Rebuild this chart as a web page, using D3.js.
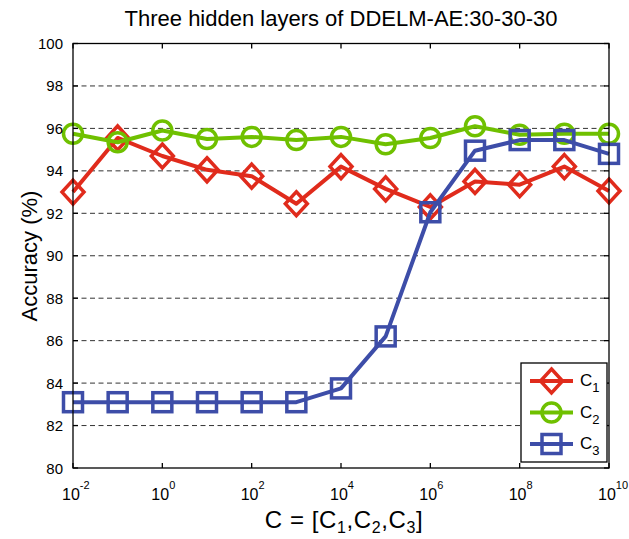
<!doctype html>
<html lang="en">
<head>
<meta charset="utf-8">
<title>DDELM-AE accuracy</title>
<style>
  * { margin: 0; padding: 0; border: 0; }
  body { background-color: #fff; }
  svg text { font-family: 'Liberation Sans', Arial, sans-serif; fill: #000; }
</style>
</head>
<body>
<div id="plot"></div>
<script src="https://d3js.org/d3.v7.min.js"></script>
<script>
  // regularisation parameter C on a log axis, 10^-2 .. 10^10
  var cExps = [-2, -1, 0, 1, 2, 3, 4, 5, 6, 7, 8, 9, 10];
  var c1 = [93.0, 95.55, 94.7, 94.05, 93.75, 92.45, 94.2, 93.15, 92.3, 93.5, 93.35, 94.2, 93.05];
  var c2 = [95.75, 95.35, 95.9, 95.5, 95.6, 95.45, 95.6, 95.25, 95.55, 96.1, 95.7, 95.75, 95.75];
  var c3 = [83.1, 83.1, 83.1, 83.1, 83.1, 83.1, 83.75, 86.2, 92.05, 94.95, 95.45, 95.45, 94.8];
  var seriesNames = ["1", "2", "3"];
  var yTicks = [80, 82, 84, 86, 88, 90, 92, 94, 96, 98, 100];
  var xTickExps = [-2, 0, 2, 4, 6, 8, 10];

  var width = 629, height = 539;
  var pl = 73, pr = 609, pt = 43.5, pb = 468;

  var x = d3.scaleLog().domain([1e-2, 1e10]).range([pl, pr]);
  var y = d3.scaleLinear().domain([80, 100]).range([pb, pt]);

  var svg = d3.select("#plot").append("svg").attr("width", width).attr("height", height);

  // dashed grid
  svg.append("g").selectAll("line")
    .data(yTicks.filter(d => d > 80 && d < 100))
    .enter().append("line")
    .attr("x1", pl).attr("x2", pr)
    .attr("y1", d => y(d)).attr("y2", d => y(d))
    .style("stroke", "#333").style("stroke-width", 1)
    .style("stroke-dasharray", "5,3.5");

  var colors = ["#e02b1c", "#6fc000", "#3d4da8"];
  var data = [c1, c2, c3];
  var line = d3.line().x(d => x(Math.pow(10, d[0]))).y(d => y(d[1]));

  function marker(g, kind, cx, cy, color) {
    if (kind == 0) {
      g.append("path").attr("d", `M${cx},${cy-12}L${cx+11},${cy}L${cx},${cy+12}L${cx-11},${cy}Z`)
        .style("fill", "none").style("stroke", color).style("stroke-width", 3.5);
    } else if (kind == 1) {
      g.append("circle").attr("cx", cx).attr("cy", cy).attr("r", 9.5)
        .style("fill", "none").style("stroke", color).style("stroke-width", 3.5);
    } else {
      g.append("rect").attr("x", cx-9.5).attr("y", cy-9.5).attr("width", 19).attr("height", 19)
        .style("fill", "none").style("stroke", color).style("stroke-width", 3.5);
    }
  }

  data.forEach(function(vals, k) {
    var g = svg.append("g");
    var pts = cExps.map((e, i) => [e, vals[i]]);
    g.append("path").attr("d", line(pts))
      .style("fill", "none").style("stroke", colors[k]).style("stroke-width", 4)
      .style("stroke-linejoin", "round");
    pts.forEach(p => marker(g, k, x(Math.pow(10, p[0])), y(p[1]), colors[k]));
  });

  // box and ticks
  var axis = svg.append("g").style("stroke", "#000").style("stroke-width", 1.3);
  axis.append("rect").attr("x", pl).attr("y", pt).attr("width", pr - pl).attr("height", pb - pt)
    .style("fill", "none");
  yTicks.forEach(function(t) {
    axis.append("line").attr("x1", pl).attr("x2", pl + 5).attr("y1", y(t)).attr("y2", y(t));
    axis.append("line").attr("x1", pr).attr("x2", pr - 5).attr("y1", y(t)).attr("y2", y(t));
  });
  xTickExps.forEach(function(e) {
    axis.append("line").attr("x1", x(Math.pow(10, e))).attr("x2", x(Math.pow(10, e))).attr("y1", pb).attr("y2", pb - 5);
    axis.append("line").attr("x1", x(Math.pow(10, e))).attr("x2", x(Math.pow(10, e))).attr("y1", pt).attr("y2", pt + 5);
  });

  // tick labels
  svg.append("g").selectAll("text").data(yTicks).enter().append("text")
    .attr("x", pl - 10).attr("y", d => y(d) + 5.5)
    .attr("text-anchor", "end").style("font-size", "15px")
    .text(d => d);

  xTickExps.forEach(function(e) {
    var t = svg.append("text").attr("x", x(Math.pow(10, e)) - 11).attr("y", 500).style("font-size", "16px");
    t.append("tspan").text("10");
    t.append("tspan").attr("dy", -11).style("font-size", "11px").text(e);
  });

  // titles
  svg.append("text").attr("x", 341).attr("y", 26).attr("text-anchor", "middle")
    .style("font-size", "22px").text("Three hidden layers of DDELM-AE:30-30-30");

  svg.append("text").attr("transform", "translate(37,256) rotate(-90)").attr("text-anchor", "middle")
    .style("font-size", "22px").text("Accuracy (%)");

  var xl = svg.append("text").attr("x", 344).attr("y", 528).attr("text-anchor", "middle")
    .style("font-size", "24px").style("letter-spacing", "0.6px");
  xl.append("tspan").text("C = [C");
  xl.append("tspan").attr("dy", 5).style("font-size", "16px").text("1");
  xl.append("tspan").attr("dy", -5).text(",C");
  xl.append("tspan").attr("dy", 5).style("font-size", "16px").text("2");
  xl.append("tspan").attr("dy", -5).text(",C");
  xl.append("tspan").attr("dy", 5).style("font-size", "16px").text("3");
  xl.append("tspan").attr("dy", -5).text("]");

  // legend
  var lg = svg.append("g");
  lg.append("rect").attr("x", 521).attr("y", 363).attr("width", 86).attr("height", 99)
    .style("fill", "#fff").style("stroke", "#000").style("stroke-width", 1.3);
  seriesNames.forEach(function(n, k) {
    var ly = 381 + k * 31.5;
    lg.append("line").attr("x1", 530).attr("x2", 573).attr("y1", ly).attr("y2", ly)
      .style("stroke", colors[k]).style("stroke-width", 4);
    marker(lg, k, 551.5, ly, colors[k]);
    var t = lg.append("text").attr("x", 580).attr("y", ly + 5).style("font-size", "17px");
    t.append("tspan").text("C");
    t.append("tspan").attr("dy", 6).style("font-size", "13px").text(n);
  });
</script>
</body>
</html>
